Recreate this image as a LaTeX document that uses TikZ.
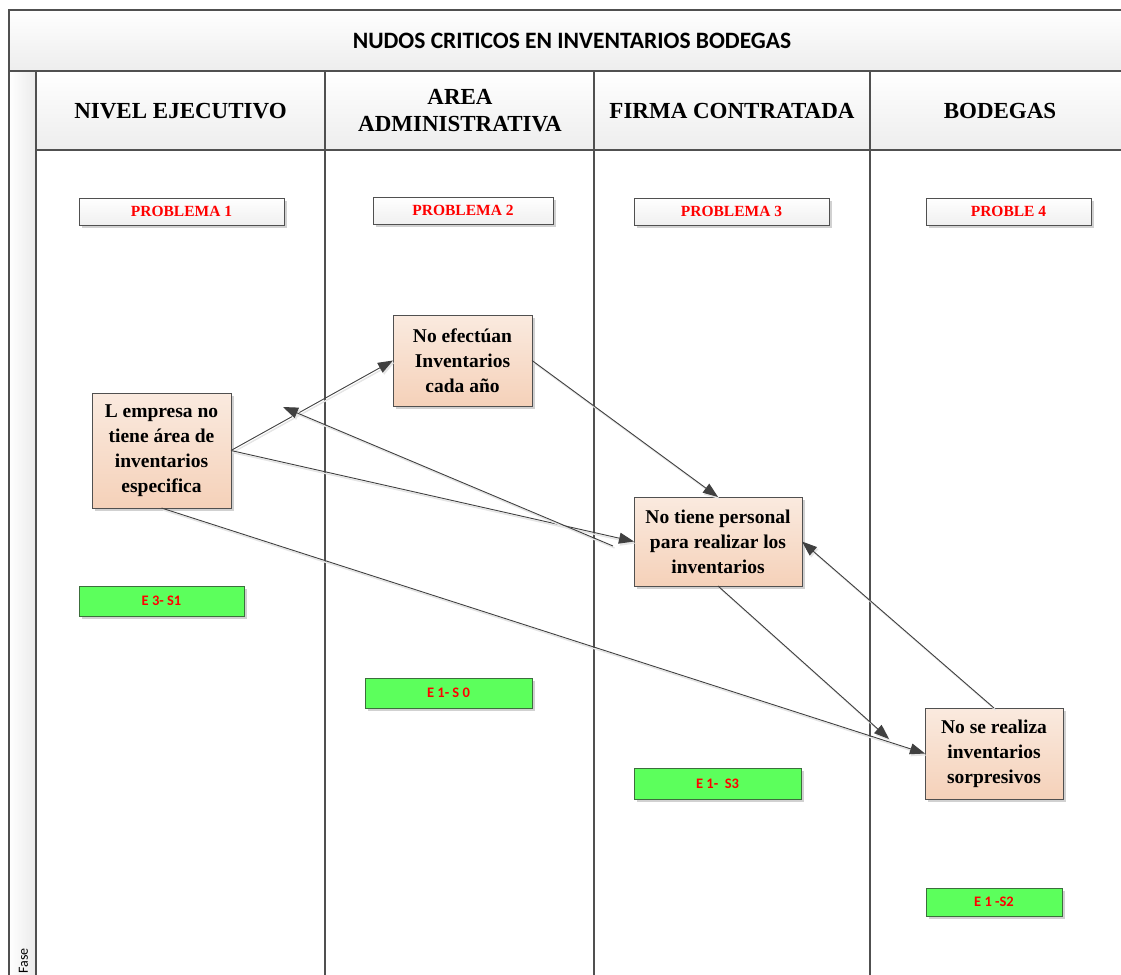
\documentclass[tikz,border=0pt]{standalone}
\usepackage{fontspec}
\setmainfont{Liberation Serif}
\newfontfamily\carlito{Carlito}
\usetikzlibrary{arrows.meta,shadows}

\definecolor{laneline}{HTML}{505050}
\definecolor{nodetop}{HTML}{FAEADF}
\definecolor{nodebot}{HTML}{F5D1B9}
\definecolor{greenfill}{HTML}{5CFF5C}
\definecolor{greenline}{HTML}{3C6E3C}
\definecolor{arrowgray}{HTML}{404040}

\tikzset{
  lane/.style={draw=laneline, line width=1.3pt},
  boxshadow/.style={drop shadow={shadow xshift=3pt, shadow yshift=-3pt, fill=black!18, opacity=1}},
  issue/.style={draw=laneline, line width=0.9pt, top color=nodetop, bottom color=nodebot,
    boxshadow, inner sep=0pt, outer sep=0pt, align=center,
    font=\fontsize{19.5}{25}\selectfont\bfseries},
  probbox/.style={draw=laneline, line width=0.9pt, top color=white, bottom color=black!6,
    boxshadow, inner sep=0pt, outer sep=0pt, minimum height=27pt,
    text=red, font=\fontsize{15.5}{18}\selectfont\bfseries},
  scorebox/.style={draw=greenline, line width=0.9pt, fill=greenfill,
    boxshadow, inner sep=0pt, outer sep=0pt,
    text=red, font=\carlito\fontsize{14.5}{17}\selectfont\bfseries},
  header/.style={align=center, font=\fontsize{23}{27}\selectfont\bfseries},
  flow/.style={draw=arrowgray, line width=0.9pt, -{Triangle[length=15pt,width=11pt]},
    preaction={draw=black!10, line width=1.4pt, transform canvas={shift={(1.5pt,-2pt)}}}}
}

\begin{document}
\begin{tikzpicture}[x=1pt,y=-1pt]
\useasboundingbox (0,0) rectangle (1121,974);
\clip (0,0) rectangle (1121,974);

% pool frame: title band, lane headers and phase strip
\shade[top color=white, bottom color=black!7] (9,10) rectangle (1140,71);
\shade[top color=white, bottom color=black!7] (36,71) rectangle (1140,150);
\shade[left color=white, right color=black!8] (9,71) rectangle (36,990);
\draw[lane] (9,990) -- (9,10) -- (1140,10);
\draw[lane] (9,71) -- (1140,71);
\draw[lane] (36,150) -- (1140,150);
\foreach \lx in {36,325,594,870} {\draw[lane] (\lx,71) -- (\lx,990);}

\node (title) at (572,41) {\carlito\fontsize{23.5}{27}\selectfont\bfseries NUDOS CRITICOS EN INVENTARIOS BODEGAS};
\node[rotate=90, anchor=west, font=\carlito\fontsize{14}{16}\selectfont] (fase) at (23.5,977) {Fase};

\node[header] (h1) at (180.5,111) {NIVEL EJECUTIVO};
\node[header] (h2) at (460,111) {AREA\\ADMINISTRATIVA};
\node[header] (h3) at (732,111) {FIRMA CONTRATADA};
\node[header] (h4) at (1000,111) {BODEGAS};

% problem labels
\node[probbox, minimum width=205pt] (p1) at (181.5,211.5) {PROBLEMA 1};
\node[probbox, minimum width=180pt] (p2) at (463,210.5) {PROBLEMA 2};
\node[probbox, minimum width=195pt] (p3) at (731.5,211.5) {PROBLEMA 3};
\node[probbox, minimum width=165pt] (p4) at (1008.5,211.5) {PROBLE 4};

% critical issues
\node[issue, minimum width=139pt, minimum height=115pt] (a) at (161.5,450.5) {L empresa no\\tiene área de\\inventarios\\especifica};
\node[issue, minimum width=139pt, minimum height=91pt] (b) at (462.5,360.5) {No efectúan\\Inventarios\\cada año};
\node[issue, minimum width=168pt, minimum height=89pt] (c) at (718,541.5) {No tiene personal\\para realizar los\\inventarios};
\node[issue, minimum width=138pt, minimum height=91pt] (d) at (994,753.5) {No se realiza\\inventarios\\sorpresivos};

% scores
\node[scorebox, minimum width=165pt, minimum height=30pt] (g1) at (161.5,601) {E 3- S1};
\node[scorebox, minimum width=167pt, minimum height=30pt] (g2) at (448.5,693) {E 1- S 0};
\node[scorebox, minimum width=167pt, minimum height=31pt] (g3) at (717.5,783.5) {E 1-\ \ S3};
\node[scorebox, minimum width=136pt, minimum height=28pt] (g4) at (994,902) {E 1 -S2};

% relations
\coordinate (cfrom) at (613,546);
\coordinate (aback) at (283,407);
\coordinate (dnear) at (889,739);
\draw[flow] (a.east) -- (b.west);
\draw[flow] (a.east) -- (c.west);
\draw[flow] (cfrom) -- (aback);
\draw[flow] (b.east) -- (c.north);
\draw[flow] (a.south) -- (d.west);
\draw[flow] (c.south) -- (dnear);
\draw[flow] (d.north) -- (c.east);
\end{tikzpicture}
\end{document}
